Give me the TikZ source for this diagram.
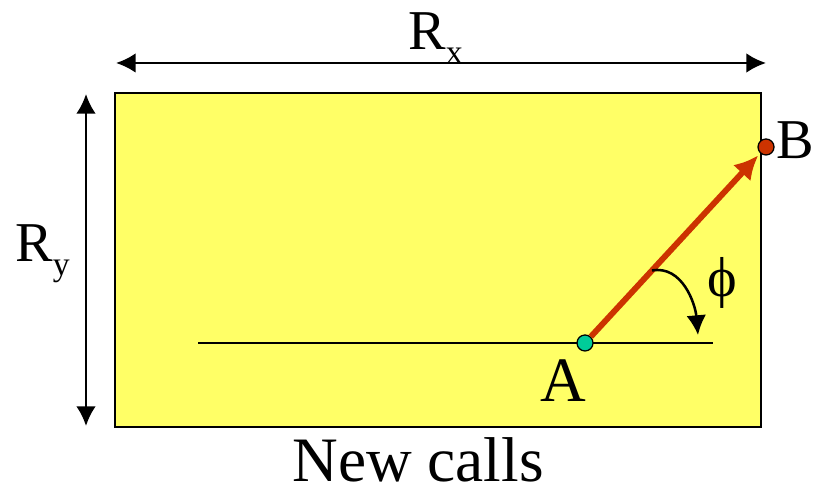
\documentclass[tikz,border=0pt]{standalone}
\usepackage{fontspec}
\setmainfont{Liberation Serif}
\usetikzlibrary{arrows.meta,calc}
\definecolor{pale}{HTML}{FFFF66}
\definecolor{rust}{HTML}{CC3300}
\definecolor{teal}{HTML}{00CC99}
\newcommand{\lowsub}[1]{\raisebox{-0.24em}{\fontsize{24}{24}\selectfont #1}}
\tikzset{
  dim/.style={line width=1.8pt, {Latex[length=14pt,width=14pt]}-{Latex[length=14pt,width=14pt]}},
  dot/.style={circle, draw, line width=0.9pt, minimum size=0.4cm, inner sep=0pt},
  big/.style={font=\fontsize{45}{45}\selectfont, inner sep=0pt}
}

\begin{document}
\begin{tikzpicture}[x=0.025cm, y=0.025cm]
            \useasboundingbox (0,0) rectangle (813,490);
            \coordinate (sw) at (115,63); \coordinate (ne) at (761,397); \coordinate (l) at (198,147); \coordinate (r) at (713,147);
            % la zone et ses dimensions
            \draw[line width=1.6pt, fill=pale] (sw) rectangle (ne);
            \draw[dim] (116,427) -- (766,427);
            \draw[dim] (86,396) -- (86,64);
            \node[anchor=base west, inner sep=0pt, font=\fontsize{40}{40}\selectfont] (Rx) at (408,440) {R\lowsub{x}};
            \node[anchor=base west, inner sep=0pt, font=\fontsize{40}{40}\selectfont] (Ry) at (15,228) {R\lowsub{y}};
            \draw[line width=1.8pt] (l) -- (r);
            \node[dot, fill=teal] (A) at (585,147) {}; \node[dot, fill=rust] (B) at (766,343) {};
            \draw[rust, line width=4.2pt, shorten >=2pt, -{Latex[length=17pt,width=17pt]}] (A) -- (B);
            \coordinate (s) at ($(A)!0.37!(B)$); \coordinate (e) at (698,155);
            \draw[line width=1.8pt, -{Latex[length=14pt,width=14pt]}] (s) to[out=10, in=95] (e);
            \node[big, anchor=base] (Alab) at (563,88) {A}; \node[anchor=base west, inner sep=0pt, font=\fontsize{40}{40}\selectfont] (Blab) at (776,331) {B};
            \node[inner sep=0pt, font=\fontsize{40}{40}\selectfont] (phi) at (722,207) {ϕ};
            \node[big, anchor=base] (calls) at (418,8) {New calls};
        \end{tikzpicture}
\end{document}
